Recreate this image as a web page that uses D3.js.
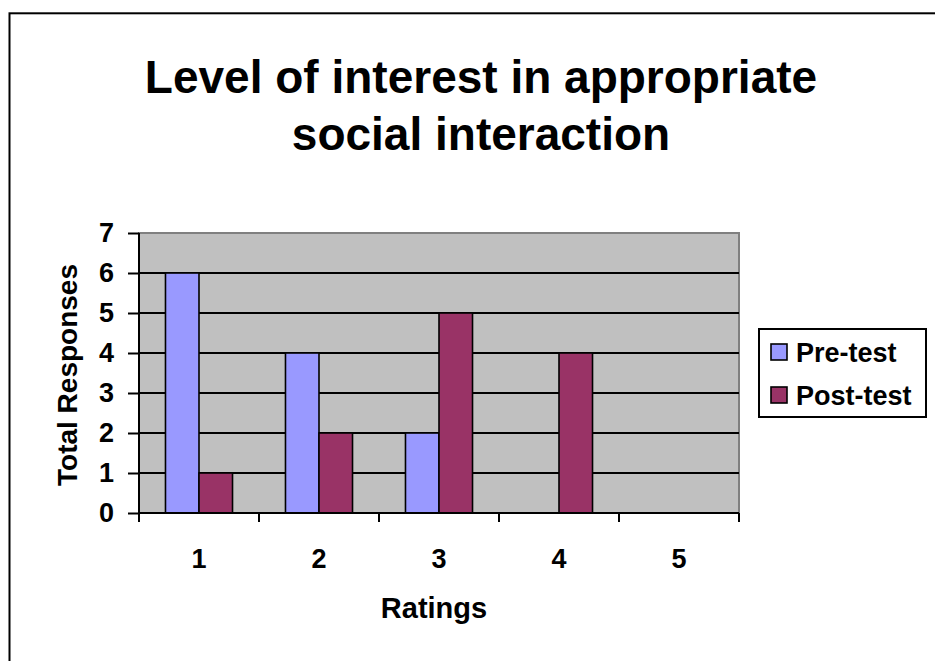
<!DOCTYPE html>
<html>
<head>
<meta charset="utf-8">
<script src="https://cdn.jsdelivr.net/npm/d3@7"></script>
<style>
    body { margin: 0; background: #ffffff; }
    text { font-family: Arial, "Liberation Sans", sans-serif; font-weight: bold; fill: #000000; }
</style>
</head>
<body>
<div class="chart"></div>
<script>
"use strict";

// Chart data
var ratings = ['1', '2', '3', '4', '5']
var series = ['Pre-test', 'Post-test']
var preTest = [6, 4, 2, 0, 0]
var postTest = [1, 2, 5, 4, 0]
var yTicks = [0, 1, 2, 3, 4, 5, 6, 7]
var seriesColors = ['#9999FF', '#993366']

var width = 935
var height = 661
var plot = { left: 139, right: 739, top: 233, bottom: 513 }

var svg = d3.select('div.chart').append('svg')
    .attr('width', width)
    .attr('height', height)

// Outer chart frame (runs off the right and bottom of the picture)
svg.append('rect')
    .attr('x', 9.5)
    .attr('y', 13.3)
    .attr('width', width)
    .attr('height', height)
    .attr('fill', 'none')
    .attr('stroke', '#000')
    .attr('stroke-width', 2)

// Title
var title = svg.append('text')
    .attr('text-anchor', 'middle')
    .attr('font-size', 46)
title.append('tspan').attr('x', 481).attr('y', 93).text('Level of interest in appropriate')
title.append('tspan').attr('x', 481).attr('y', 150).text('social interaction')

// Scales
var x = d3.scaleBand()
    .domain(ratings)
    .range([plot.left, plot.right])
    .padding(0)

var xSeries = d3.scaleBand()
    .domain(series)
    .range([0, x.bandwidth()])
    .paddingInner(0)
    .paddingOuter(0.79)

var y = d3.scaleLinear()
    .domain([0, 7])
    .range([plot.bottom, plot.top])

// Plot area
svg.append('rect')
    .attr('x', plot.left)
    .attr('y', plot.top)
    .attr('width', plot.right - plot.left)
    .attr('height', plot.bottom - plot.top)
    .attr('fill', '#C0C0C0')
    .attr('stroke', '#808080')
    .attr('stroke-width', 2)

// Gridlines
svg.append('g')
    .selectAll('line')
    .data(yTicks.filter(d => d > 0 && d < 7))
    .enter()
    .append('line')
    .attr('x1', plot.left)
    .attr('x2', plot.right)
    .attr('y1', d => y(d))
    .attr('y2', d => y(d))
    .attr('stroke', '#000')
    .attr('stroke-width', 2)

// Bars
var rows = ratings.map((r, i) => ({ rating: r, values: [preTest[i], postTest[i]] }))
svg.append('g')
    .selectAll('g')
    .data(rows)
    .enter()
    .append('g')
    .attr('transform', d => 'translate(' + x(d.rating) + ',0)')
    .selectAll('rect')
    .data(d => d.values.map((v, j) => ({ key: series[j], value: v, color: seriesColors[j] })).filter(e => e.value > 0))
    .enter()
    .append('rect')
    .attr('x', d => xSeries(d.key))
    .attr('y', d => y(d.value))
    .attr('width', xSeries.bandwidth())
    .attr('height', d => y(0) - y(d.value))
    .attr('fill', d => d.color)
    .attr('stroke', '#000')
    .attr('stroke-width', 1.6)

// Y axis
var yAxis = svg.append('g')
    .attr('transform', 'translate(' + plot.left + ',0)')
    .call(d3.axisLeft(y).tickValues(yTicks).tickFormat(d3.format('d')).tickSize(11).tickPadding(14))
yAxis.selectAll('path, line').attr('stroke', '#000').attr('stroke-width', 2)
yAxis.select('path').attr('d', 'M0,' + plot.top + 'V' + plot.bottom)
yAxis.selectAll('text').attr('font-size', 27).attr('font-family', null)

// X axis: labels at band centres, ticks on band boundaries
var xAxis = svg.append('g')
    .attr('transform', 'translate(0,' + plot.bottom + ')')
    .call(d3.axisBottom(x).tickSize(0).tickPadding(36))
xAxis.select('path').attr('d', 'M' + plot.left + ',0H' + plot.right).attr('stroke', '#000').attr('stroke-width', 2)
xAxis.selectAll('text').attr('font-size', 27).attr('font-family', null)

var boundaries = ratings.map(r => x(r)).concat([plot.right])
xAxis.selectAll('line.boundary')
    .data(boundaries)
    .enter()
    .append('line')
    .attr('class', 'boundary')
    .attr('x1', d => d)
    .attr('x2', d => d)
    .attr('y1', 0)
    .attr('y2', 9)
    .attr('stroke', '#000')
    .attr('stroke-width', 2)

// Axis titles
svg.append('text')
    .text('Total Responses')
    .attr('text-anchor', 'middle')
    .attr('font-size', 28)
    .attr('transform', 'translate(77,375) rotate(-90)')

svg.append('text')
    .text('Ratings')
    .attr('text-anchor', 'middle')
    .attr('font-size', 29)
    .attr('x', 434)
    .attr('y', 618)

// Legend
var legend = svg.append('g')
legend.append('rect')
    .attr('x', 759)
    .attr('y', 329)
    .attr('width', 167)
    .attr('height', 88)
    .attr('fill', '#fff')
    .attr('stroke', '#000')
    .attr('stroke-width', 2)

var legendItems = legend.selectAll('g.item')
    .data(series)
    .enter()
    .append('g')
    .attr('class', 'item')
    .attr('transform', (d, i) => 'translate(771,' + (344 + i * 43) + ')')

legendItems.append('rect')
    .attr('width', 16)
    .attr('height', 16)
    .attr('fill', (d, i) => seriesColors[i])
    .attr('stroke', '#000')
    .attr('stroke-width', 1.6)

legendItems.append('text')
    .text(d => d)
    .attr('x', 25)
    .attr('y', 18)
    .attr('font-size', 27)
</script>
</body>
</html>
